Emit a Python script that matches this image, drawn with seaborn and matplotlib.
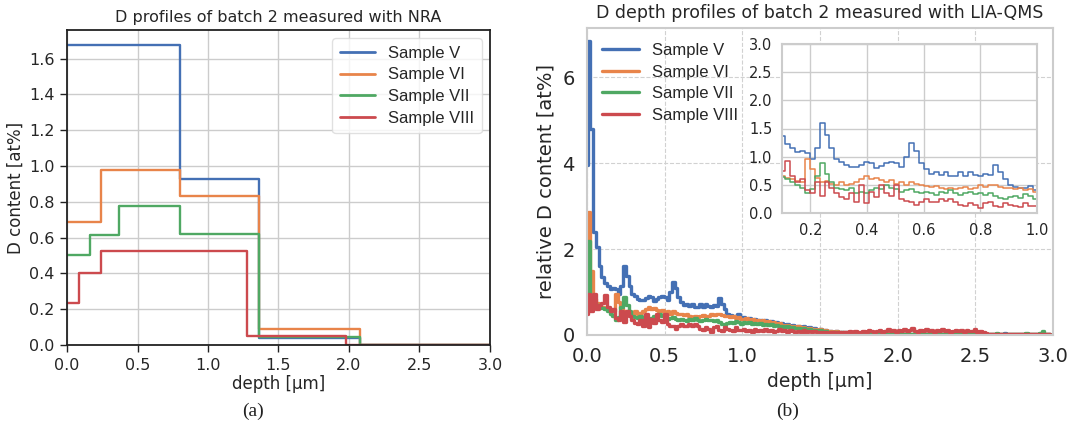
import numpy as np
import pandas as pd
import matplotlib
matplotlib.use("Agg")
import matplotlib.pyplot as plt
from matplotlib import font_manager as fm
import seaborn as sns

# keep only the regular-width Liberation faces
fm.fontManager.ttflist = [f for f in fm.fontManager.ttflist
                          if "narrow" not in f.fname.lower()]
try:
    fm.fontManager._findfont_cached.cache_clear()
except Exception:
    pass

# ---------------- data ----------------
samples = ["Sample V", "Sample VI", "Sample VII", "Sample VIII"]
colors = ["#4470B4", "#E8844A", "#4FA863", "#CC4A4E"]

# NRA step profiles (layer boundaries in µm and D content in at%)
nra_edges_V = [0.0, 0.804, 1.362, 2.076, 3.0]
nra_vals_V = [1.675, 0.925, 0.04, 0.0, 0.0]
nra_edges_VI = [0.0, 0.244, 0.804, 1.362, 2.076, 3.0]
nra_vals_VI = [0.69, 0.975, 0.83, 0.09, 0.0, 0.0]
nra_edges_VII = [0.0, 0.163, 0.369, 0.804, 1.362, 2.076, 3.0]
nra_vals_VII = [0.505, 0.615, 0.775, 0.62, 0.045, 0.0, 0.0]
nra_edges_VIII = [0.0, 0.085, 0.244, 1.28, 1.98, 3.0]
nra_vals_VIII = [0.235, 0.40, 0.525, 0.05, 0.0, 0.0]

# LIA-QMS profiles: relative D content per depth bin
lia_start = 0.005      # µm, first sample depth
lia_step = 0.0175      # µm, depth per bin

lia_V = [3.95, 6.85, 4.8, 2.4, 2.05, 1.6,
         1.36, 1.22, 1.15, 1.08, 1.1, 1.07, 0.95, 1.15, 1.6, 1.38,
         1.15, 0.95, 0.9, 0.85, 0.82, 0.82, 0.86, 0.9, 0.88, 0.8,
         0.84, 0.88, 0.9, 0.88, 0.82, 1.0, 1.24, 1.1, 0.88, 0.78,
         0.7, 0.72, 0.68, 0.72, 0.66, 0.66, 0.72, 0.66, 0.72, 0.68,
         0.66, 0.7, 0.68, 0.86, 0.72, 0.6, 0.5, 0.46, 0.45, 0.45,
         0.48, 0.4,
         0.42, 0.38, 0.4, 0.36, 0.38, 0.34, 0.35, 0.32, 0.34, 0.3,
         0.32, 0.28, 0.3, 0.26, 0.28, 0.24, 0.26, 0.22, 0.24, 0.2,
         0.22, 0.18, 0.2, 0.16, 0.18, 0.14, 0.16, 0.12, 0.14, 0.1,
         0.12, 0.09, 0.1, 0.08, 0.09, 0.07, 0.08, 0.06, 0.07, 0.05,
         0.06, 0.04, 0.05, 0.04, 0.05, 0.03, 0.04, 0.03, 0.04, 0.03,
         0.03, 0.02, 0.03, 0.02, 0.03, 0.02, 0.03, 0.02, 0.02, 0.03,
         0.02, 0.03, 0.02, 0.02, 0.03, 0.02, 0.02, 0.03, 0.02, 0.02,
         0.03, 0.02, 0.02, 0.02, 0.03, 0.02, 0.02, 0.02, 0.03, 0.02,
         0.02, 0.02, 0.03, 0.02, 0.02, 0.03, 0.02, 0.02, 0.02, 0.03,
         0.02, 0.02, 0.02, 0.03, 0.02, 0.02, 0.04, 0.02, 0.02, 0.02,
         0.03, 0.02, 0.02, 0.02, 0.03, 0.02, 0.02, 0.02, 0.03, 0.02,
         0.02, 0.02, 0.02]

lia_VI = [1.0, 2.87, 1.5, 0.85, 0.75, 0.7,
          0.66, 0.62, 0.6, 0.56, 0.55, 0.95, 0.78, 0.62, 0.55, 0.56,
          0.52, 0.5, 0.55, 0.5, 0.52, 0.55, 0.6, 0.65, 0.6, 0.62,
          0.58, 0.55, 0.58, 0.52, 0.55, 0.5, 0.55, 0.52, 0.5, 0.48,
          0.46, 0.48, 0.44, 0.42, 0.44, 0.42, 0.44, 0.47, 0.42, 0.44,
          0.5, 0.46, 0.5, 0.5, 0.47, 0.45, 0.44, 0.42, 0.45, 0.4,
          0.42, 0.38,
          0.38, 0.4, 0.36, 0.38, 0.34, 0.36, 0.32, 0.34, 0.3, 0.32,
          0.28, 0.3, 0.26, 0.28, 0.24, 0.22, 0.24, 0.2, 0.22, 0.18,
          0.2, 0.17, 0.18, 0.15, 0.16, 0.13, 0.14, 0.12, 0.13, 0.1,
          0.11, 0.09, 0.1, 0.08, 0.09, 0.07, 0.08, 0.06, 0.07, 0.05,
          0.06, 0.05, 0.04, 0.05, 0.04, 0.03, 0.04, 0.03, 0.03, 0.04,
          0.03, 0.02, 0.03, 0.04, 0.02, 0.03, 0.02, 0.03, 0.02, 0.03,
          0.02, 0.03, 0.02, 0.02, 0.03, 0.02, 0.03, 0.02, 0.02, 0.03,
          0.02, 0.02, 0.03, 0.02, 0.02, 0.03, 0.02, 0.02, 0.03, 0.02,
          0.02, 0.03, 0.02, 0.02, 0.02, 0.03, 0.02, 0.02, 0.03, 0.02,
          0.02, 0.02, 0.03, 0.02, 0.02, 0.02, 0.03, 0.02, 0.02, 0.02,
          0.03, 0.02, 0.02, 0.02, 0.03, 0.02, 0.02, 0.02, 0.02, 0.02,
          0.02, 0.02, 0.02]

lia_VII = [0.55, 2.2, 0.85, 0.75, 0.7, 0.68,
           0.64, 0.6, 0.55, 0.5, 0.44, 0.35, 0.42, 0.65, 0.88, 0.7,
           0.55, 0.45, 0.42, 0.4, 0.45, 0.35, 0.38, 0.35, 0.4, 0.45,
           0.42, 0.5, 0.45, 0.42, 0.38, 0.4, 0.42, 0.38, 0.36, 0.38,
           0.35, 0.32, 0.38, 0.35, 0.4, 0.36, 0.32, 0.35, 0.38, 0.34,
           0.36, 0.32, 0.36, 0.3, 0.26, 0.24, 0.28, 0.3, 0.27, 0.33,
           0.3, 0.25,
           0.3, 0.28, 0.3, 0.26, 0.28, 0.25, 0.27, 0.24, 0.26, 0.23,
           0.25, 0.22, 0.24, 0.2, 0.22, 0.19, 0.2, 0.17, 0.19, 0.16,
           0.17, 0.14, 0.16, 0.13, 0.14, 0.11, 0.12, 0.1, 0.11, 0.08,
           0.09, 0.07, 0.08, 0.06, 0.07, 0.05, 0.06, 0.05, 0.04, 0.05,
           0.04, 0.03, 0.04, 0.03, 0.03, 0.02, 0.03, 0.02, 0.03, 0.02,
           0.02, 0.03, 0.02, 0.02, 0.03, 0.02, 0.02, 0.03, 0.02, 0.02,
           0.03, 0.02, 0.02, 0.02, 0.03, 0.02, 0.02, 0.02, 0.03, 0.02,
           0.02, 0.03, 0.02, 0.02, 0.02, 0.03, 0.02, 0.02, 0.02, 0.03,
           0.02, 0.02, 0.03, 0.02, 0.02, 0.02, 0.03, 0.02, 0.02, 0.03,
           0.02, 0.02, 0.03, 0.04, 0.02, 0.03, 0.02, 0.02, 0.03, 0.02,
           0.02, 0.03, 0.02, 0.02, 0.04, 0.02, 0.02, 0.03, 0.02, 0.05,
           0.1, 0.03, 0.02]

lia_VIII = [0.5, 0.95, 0.55, 0.95, 0.6, 0.7,
            0.75, 0.93, 0.65, 0.55, 0.6, 0.4, 0.35, 0.55, 0.3, 0.55,
            0.45, 0.35, 0.28, 0.25, 0.35, 0.2, 0.5, 0.18, 0.38, 0.28,
            0.5, 0.35, 0.3, 0.5, 0.25, 0.22, 0.2, 0.15, 0.2, 0.25,
            0.2, 0.2, 0.25, 0.22, 0.25, 0.2, 0.15, 0.12, 0.18, 0.15,
            0.08, 0.18, 0.2, 0.12, 0.1, 0.18, 0.15, 0.12, 0.1, 0.18,
            0.12, 0.12,
            0.15, 0.1, 0.12, 0.08, 0.14, 0.1, 0.12, 0.09, 0.13, 0.1,
            0.12, 0.08, 0.1, 0.13, 0.09, 0.11, 0.08, 0.12, 0.1, 0.08,
            0.1, 0.07, 0.11, 0.08, 0.09, 0.06, 0.1, 0.07, 0.08, 0.06,
            0.08, 0.05, 0.07, 0.06, 0.04, 0.07, 0.05, 0.08, 0.06, 0.09,
            0.07, 0.1, 0.08, 0.06, 0.1, 0.08, 0.12, 0.09, 0.07, 0.1,
            0.12, 0.08, 0.1, 0.13, 0.09, 0.11, 0.08, 0.12, 0.1, 0.15,
            0.1, 0.12, 0.16, 0.1, 0.08, 0.12, 0.1, 0.13, 0.09, 0.11,
            0.08, 0.12, 0.1, 0.14, 0.09, 0.11, 0.08, 0.1, 0.12, 0.09,
            0.11, 0.08, 0.12, 0.09, 0.1, 0.13, 0.08, 0.1, 0.06, 0.04,
            0.03, 0.02, 0.03, 0.02, 0.03, 0.02, 0.02, 0.03, 0.02, 0.02,
            0.03, 0.02, 0.02, 0.03, 0.02, 0.02, 0.02, 0.03, 0.02, 0.02,
            0.03, 0.02, 0.02]

# ---------------- tidy frames ----------------
nra_edges = [nra_edges_V, nra_edges_VI, nra_edges_VII, nra_edges_VIII]
nra_vals = [nra_vals_V, nra_vals_VI, nra_vals_VII, nra_vals_VIII]
rows = []
for name, ed, va in zip(samples, nra_edges, nra_vals):
    for e, v in zip(ed, va):
        rows.append((e, v, name))
df_nra = pd.DataFrame(rows, columns=["depth", "content", "sample"])

lia_vals = [lia_V, lia_VI, lia_VII, lia_VIII]
rows = []
for name, va in zip(samples, lia_vals):
    d = lia_start + lia_step * np.arange(len(va))
    for e, v in zip(d, va):
        rows.append((e, v, name))
df_lia = pd.DataFrame(rows, columns=["depth", "content", "sample"])

# ---------------- figure ----------------
sns.set_theme(context="notebook", style="whitegrid")
plt.rcParams["font.family"] = ["Liberation Sans", "DejaVu Sans"]
plt.rcParams["text.color"] = "#262626"

W, H = 1067, 424
fig = plt.figure(figsize=(W / 100, H / 100), dpi=100)
fig.patch.set_facecolor("white")

def frac(x0, y0, x1, y1):
    return [x0 / W, 1 - y1 / H, (x1 - x0) / W, (y1 - y0) / H]

pal = dict(zip(samples, colors))

# ---- (a) NRA ----
with sns.axes_style("ticks", {"axes.grid": True, "grid.color": ".8",
                              "axes.edgecolor": ".15"}):
    ax1 = fig.add_axes(frac(67, 30, 490, 345))
sns.lineplot(data=df_nra, x="depth", y="content", hue="sample",
             hue_order=samples, palette=pal, drawstyle="steps-post",
             estimator=None, sort=False, lw=1.7, ax=ax1)
ax1.set_xlim(0, 3.0)
ax1.set_ylim(0, 1.76)
ax1.set_yticks(np.arange(0, 1.61, 0.2))
ax1.grid(True, color=".8", lw=1.0)
for s in ax1.spines.values():
    s.set_color("#222222")
    s.set_linewidth(1.3)
ax1.tick_params(axis="both", labelsize=11.5, length=5, width=1.0, pad=4,
                colors="#222222", labelcolor="#262626")
ax1.set_xlabel("depth [µm]", fontsize=12, labelpad=2)
ax1.set_ylabel("D content [at%]", fontsize=12, labelpad=3)
ax1.set_title("D profiles of batch 2 measured with NRA", fontsize=11.5, pad=6)
leg1 = ax1.legend(loc="upper right", fontsize=12, frameon=True,
                  labelspacing=0.4, handlelength=2.1, borderpad=0.45)
leg1.get_frame().set_edgecolor(".85")
for ln in leg1.get_lines():
    ln.set_linewidth(2.0)

# ---- (b) LIA-QMS ----
with sns.axes_style("whitegrid", {"axes.edgecolor": ".8"}):
    ax2 = fig.add_axes(frac(587, 28, 1053, 335))
sns.lineplot(data=df_lia, x="depth", y="content", hue="sample",
             hue_order=samples, palette=pal, drawstyle="steps-pre",
             estimator=None, sort=False, lw=2.4, ax=ax2)
ax2.set_xlim(0, 3.0)
ax2.set_ylim(0, 7.15)
ax2.set_yticks([0, 2, 4, 6])
ax2.grid(True, color=".82", lw=0.8, ls="--")
for s in ax2.spines.values():
    s.set_color(".8")
    s.set_linewidth(1.5)
ax2.tick_params(axis="both", labelsize=14, length=0, pad=9,
                labelcolor="#262626")
ax2.set_xlabel("depth [µm]", fontsize=13.5, labelpad=4)
ax2.set_ylabel("relative D content [at%]", fontsize=14, labelpad=5)
ax2.set_title("D depth profiles of batch 2 measured with LIA-QMS",
              fontsize=12.5, pad=7)
leg2 = ax2.legend(loc="upper left", fontsize=12, frameon=False,
                  labelspacing=0.4, handlelength=2.2)
for ln in leg2.get_lines():
    ln.set_linewidth(2.4)

# inset
with sns.axes_style("whitegrid", {"axes.edgecolor": ".8"}):
    ax3 = fig.add_axes(frac(782, 44, 1037, 213))
sns.lineplot(data=df_lia, x="depth", y="content", hue="sample",
             hue_order=samples, palette=pal, drawstyle="steps-pre",
             estimator=None, sort=False, lw=1.1, ax=ax3, legend=False)
ax3.set_xlim(0.1, 1.0)
ax3.set_ylim(0, 3.0)
ax3.set_xticks([0.2, 0.4, 0.6, 0.8, 1.0])
ax3.set_yticks(np.arange(0, 3.01, 0.5))
ax3.grid(True, color=".8", lw=1.0, ls="-")
for s in ax3.spines.values():
    s.set_color(".8")
    s.set_linewidth(1.5)
ax3.tick_params(axis="both", labelsize=10.5, length=0, pad=7,
                labelcolor="#262626")
ax3.set_xlabel("")
ax3.set_ylabel("")

# captions
fig.text(253 / W, 1 - 411 / H, "(a)", ha="center", va="center",
         fontsize=14, family=["Liberation Serif", "DejaVu Serif"], color="#222222")
fig.text(788 / W, 1 - 411 / H, "(b)", ha="center", va="center",
         fontsize=14, family=["Liberation Serif", "DejaVu Serif"], color="#222222")

fig.savefig("out.png", dpi=100, facecolor="white")
